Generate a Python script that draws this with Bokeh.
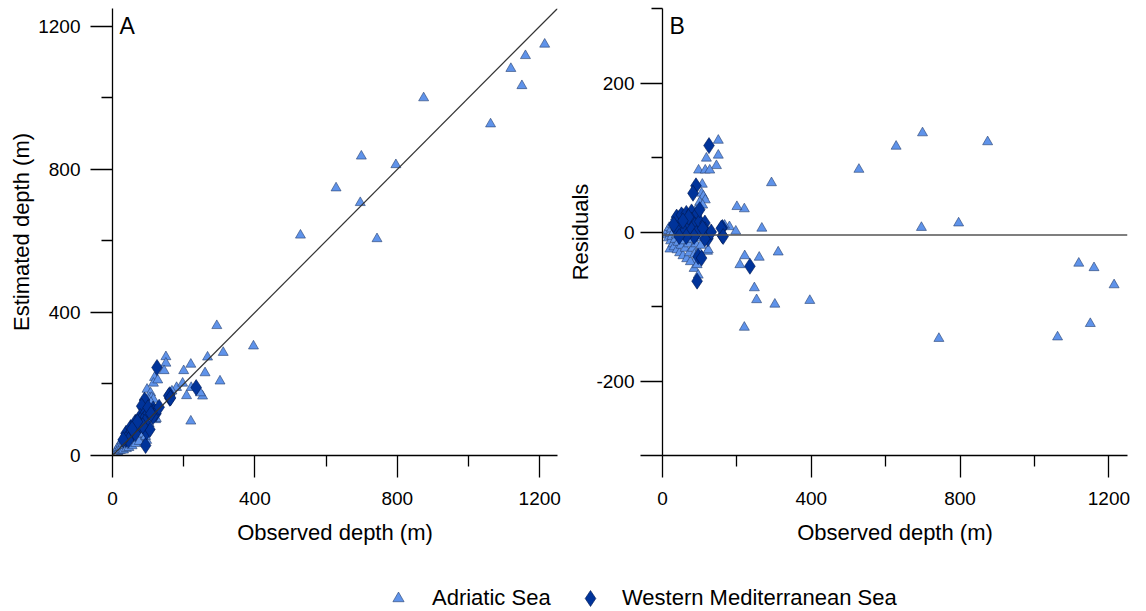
from bokeh.plotting import figure
from bokeh.models import Range1d, FixedTicker, Slope, Span, Label, Legend, LegendItem
from bokeh.layouts import column, row
from bokeh.embed import file_html
from bokeh.resources import INLINE

FONT = "Liberation Sans"

# ---------------- data ----------------
# Adriatic Sea: observed depth, estimated depth, residual
adr_obs = [1214, 1160, 1119, 1150, 1062, 874, 699, 796, 628, 696, 743, 528,
           396, 302, 293, 311, 267, 253, 247, 260, 220, 221, 208, 220, 200,
           180, 197, 167, 150, 150, 145, 118, 97, 115, 127, 107, 105, 110,
           115, 121, 123, 87, 85, 96, 20,
           12, 14, 16, 18, 20, 22, 24, 25, 27, 28, 30, 31, 33, 34, 36, 37,
           39, 40, 42, 43, 45, 46, 48, 50, 51, 53, 55, 56, 58, 60, 61, 63,
           65, 66, 68, 70, 72, 73, 75, 77, 79, 81, 83, 86, 88, 90, 93, 95,
           98, 100, 103, 35, 45, 55, 65, 80, 90, 100, 108]
adr_est = [1150, 1118, 1082, 1034, 927, 1000, 837, 813, 748, 707, 606, 616,
           306, 208, 363, 288, 275, 166, 175, 231, 96, 190, 167, 255, 237,
           190, 202, 180, 276, 258, 237, 218, 185, 202, 211, 175, 161, 162,
           157, 100, 103, 53, 40, 42, 0,
           12, 20, 12, 28, 22, 14, 32, 23, 41, 16, 34, 15, 45, 28, 54, 37,
           19, 48, 32, 59, 47, 22, 60, 36, 71, 51, 27, 62, 50, 82, 43, 73,
           33, 66, 84, 58, 48, 79, 39, 89, 73, 63, 85, 60, 96, 78, 53, 91,
           76, 110, 89, 59, 71, 83, 95, 112, 124, 144, 148]
adr_res = [-71, -48, -42, -123, -141, 121, 133, 12, 115, 6, -143, 84,
           -92, -97, 66, -27, 5, -91, -75, -34, -128, -32, -44, 31, 34,
           7, 1, 9, 123, 103, 89, 99, 83, 83, 83, 64, 52, 48,
           43, -26, -24, -38, -49, -58, -23,
           -4, 2, -8, 6, -2, -12, 4, -6, 10, -16, 0, -20, 8, -10, 14, -4,
           -24, 4, -14, 12, -2, -28, 8, -18, 16, -6, -32, 2, -12, 18, -22, 6,
           -36, -4, 12, -16, -28, 2, -40, 8, -10, -22, -2, -30, 4, -16, -44, -8,
           -26, 6, -18, 20, 22, 24, 26, 28, 30, 40, 36]

# Western Mediterranean Sea: observed depth, estimated depth, residual
wm_obs = [125, 90, 82, 161, 161, 235, 93, 96, 105,
          38, 51, 64, 78, 91, 78, 64, 51, 72, 87, 100, 114, 38, 58, 78, 91,
          114, 122, 131, 158, 163, 114, 85, 64, 45, 30, 100, 70, 108, 55]
wm_est = [246, 155, 138, 170, 160, 190, 28, 66, 73,
          62, 78, 93, 109, 118, 98, 80, 64, 83, 100, 118, 130, 45, 62, 85, 93,
          121, 117, 135, 167, 161, 109, 83, 62, 43, 44, 134, 94, 117, 74]
wm_res = [116, 62, 52, 6, -5, -46, -66, -33, -35,
          20, 23, 25, 27, 23, 16, 12, 9, 7, 9, 14, 12, 3, 0, 3, -2,
          3, -9, 0, 5, -6, -9, -6, -6, -6, 10, 30, 20, 5, 15]

series_labels = ["Adriatic Sea", "Western Mediterranean Sea"]
x_ticks = [0, 400, 800, 1200]
x_minor = [200, 600, 1000]
a_y_ticks = [0, 400, 800, 1200]
a_y_minor = [200, 600, 1000]
b_y_ticks = [-300, -200, 0, 200]
b_y_tick_labels = ["", "-200", "0", "200"]
b_y_minor = [-100, 100, 300]
resid_line = -4

TRI_FILL = "#5f93ea"
TRI_LINE = "#27406e"
DIA_FILL = "#00339a"
DIA_LINE = "#001a50"


def style(p, xt, xm, yt, ym, ytick_standoff, ylab_standoff):
    for ax, t, m in ((p.xaxis[0], xt, xm), (p.yaxis[0], yt, ym)):
        ax.ticker = FixedTicker(ticks=t, minor_ticks=m)
        ax.major_tick_out = 22
        ax.major_tick_in = 0
        ax.minor_tick_out = 11
        ax.minor_tick_in = 0
        ax.axis_line_width = 1.3
        ax.major_tick_line_width = 1.3
        ax.minor_tick_line_width = 1.3
        ax.axis_line_color = "black"
        ax.major_tick_line_color = "black"
        ax.minor_tick_line_color = "black"
        ax.major_label_text_font = FONT
        ax.major_label_text_font_size = "19px"
        ax.major_label_text_color = "black"
        ax.axis_label_text_font = FONT
        ax.axis_label_text_font_size = "22px"
        ax.axis_label_text_font_style = "normal"
        ax.axis_label_text_color = "black"
    p.xaxis[0].major_label_standoff = 14
    p.xaxis[0].axis_label_standoff = 12
    p.yaxis[0].major_label_standoff = ytick_standoff
    p.yaxis[0].axis_label_standoff = ylab_standoff
    p.xgrid.visible = False
    p.ygrid.visible = False
    p.outline_line_color = None


# ---------------- panel A ----------------
pA = figure(frame_width=445, frame_height=447, width=565, height=555,
            x_range=Range1d(0, 1250), y_range=Range1d(0, 1250),
            output_backend="svg", toolbar_location=None,
            min_border_left=112, min_border_right=8, min_border_top=8,
            min_border_bottom=100, background_fill_color="white")
pA.xaxis.axis_label = "Observed depth (m)"
pA.yaxis.axis_label = "Estimated depth (m)"
style(pA, x_ticks, x_minor, a_y_ticks, a_y_minor, 10, 1)
pA.add_layout(Slope(gradient=1, y_intercept=0, line_color="#333333", line_width=1.2))
pA.scatter(adr_obs, adr_est, marker="triangle", size=10, fill_color=TRI_FILL,
           line_color=TRI_LINE, line_width=0.6)
pA.scatter(wm_obs, wm_est, marker="diamond", size=16, fill_color=DIA_FILL,
           line_color=DIA_LINE, line_width=0.6)
pA.add_layout(Label(x=7, y=443, x_units="screen", y_units="screen", text="A",
                    text_baseline="top", text_font=FONT, text_font_size="23px",
                    text_color="black"))

# ---------------- panel B ----------------
pB = figure(frame_width=465, frame_height=447, height=555,
            x_range=Range1d(0, 1250), y_range=Range1d(-300, 300),
            output_backend="svg", toolbar_location=None,
            min_border_left=90, min_border_right=20, min_border_top=8,
            min_border_bottom=100, background_fill_color="white")
pB.xaxis.axis_label = "Observed depth (m)"
pB.yaxis.axis_label = "Residuals"
style(pB, x_ticks, x_minor, b_y_ticks, b_y_minor, 6, 0)
pB.yaxis[0].major_label_overrides = dict(zip(b_y_ticks, b_y_tick_labels))
pB.add_layout(Span(location=resid_line, dimension="width", line_color="#555555",
                   line_width=1.5))
pB.scatter(adr_obs, adr_res, marker="triangle", size=10, fill_color=TRI_FILL,
           line_color=TRI_LINE, line_width=0.6)
pB.scatter(wm_obs, wm_res, marker="diamond", size=16, fill_color=DIA_FILL,
           line_color=DIA_LINE, line_width=0.6)
pB.add_layout(Label(x=7, y=443, x_units="screen", y_units="screen", text="B",
                    text_baseline="top", text_font=FONT, text_font_size="23px",
                    text_color="black"))

# ---------------- legend ----------------
# legend renderers reuse one data point of each series; it lies outside this
# figure's (0..1) range, so only the legend swatches are visible
pL = figure(width=1146, height=56, x_range=Range1d(0, 1), y_range=Range1d(0, 1),
            output_backend="svg", toolbar_location=None, min_border=0)
pL.axis.visible = False
pL.xgrid.visible = False
pL.ygrid.visible = False
pL.outline_line_color = None
r1 = pL.scatter(adr_obs[:1], adr_est[:1], marker="triangle", fill_color=TRI_FILL,
                line_color=TRI_LINE, line_width=0.6)
r2 = pL.scatter(wm_obs[:1], wm_est[:1], marker="diamond", fill_color=DIA_FILL,
                line_color=DIA_LINE, line_width=0.6)
common = dict(orientation="horizontal", padding=0, margin=0,
              border_line_color=None, background_fill_alpha=0,
              label_text_font=FONT, label_text_font_size="22px",
              label_text_color="black")
leg1 = Legend(items=[LegendItem(label=series_labels[0], renderers=[r1])],
              location=(384, -1), label_standoff=20, glyph_width=28,
              glyph_height=28, **common)
leg2 = Legend(items=[LegendItem(label=series_labels[1], renderers=[r2])],
              location=(570, -7), label_standoff=12, glyph_width=40,
              glyph_height=40, **common)
pL.add_layout(leg1)
pL.add_layout(leg2)

layout = column(row(pA, pB), pL)
open("out.html", "w").write(file_html(layout, INLINE))
